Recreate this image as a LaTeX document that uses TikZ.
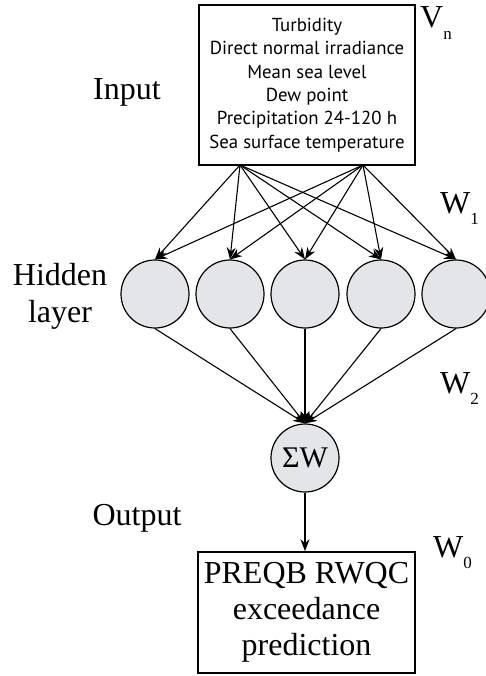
\documentclass[tikz,border=0pt]{standalone}
\usepackage{fontspec}
\setmainfont{Liberation Serif}
\newfontfamily\boxfont{PT Sans}
\usetikzlibrary{arrows.meta}
\definecolor{nodegray}{HTML}{E3E5E8}
\tikzset{
  lbl/.style={font=\fontsize{32}{37}\selectfont, inner sep=0pt},
  wlbl/.style={font=\fontsize{32}{37}\selectfont, inner sep=0pt, anchor=base west},
  neuron/.style={circle, draw=black, line width=1.2pt, fill=nodegray, minimum size=68pt, inner sep=0pt},
  bx/.style={draw=black, line width=1.6pt, rectangle, inner sep=0pt, align=center},
  conn/.style={line width=1.1pt, draw=black, -{Stealth[length=12pt,width=9pt]}},
}
\newcommand{\subl}[1]{\raisebox{-0.36em}{\fontsize{17}{17}\selectfont #1}}
\begin{document}
\begin{tikzpicture}[x=1pt,y=-1pt]
\useasboundingbox (0,0) rectangle (485,676);
% input box
\node[bx, minimum width=216pt, minimum height=160pt,
  font=\boxfont\fontsize{18.8}{23.3}\selectfont] (in) at (307,85)
  {Turbidity\\Direct normal irradiance\\Mean sea level\\Dew point\\Precipitation 24-120 h\\Sea surface temperature};
\coordinate (s1) at (240,165);
\coordinate (s2) at (363,165);
% hidden layer
\foreach \i/\x in {1/155,2/230,3/305,4/381,5/456}{
  \node[neuron] (h\i) at (\x,294) {};
}
\foreach \i in {1,...,5}{
  \draw[conn] (s1) -- (h\i.north);
  \draw[conn] (s2) -- (h\i.north);
}
% sum node
\node[neuron, font=\fontsize{30}{32}\selectfont] (sum) at (305,458) {ΣW};
\foreach \i in {1,...,5}{
  \draw[conn] (h\i.south) -- (sum.north);
}
% output box
\node[bx, minimum width=217pt, minimum height=121pt,
  font=\fontsize{32}{36}\selectfont] (out) at (306.5,612.5)
  {PREQB RWQC\\exceedance\\prediction};
\draw[conn] (sum.south) -- (sum.south |- out.north);
% labels
\node[lbl, anchor=base] (linput) at (127,100) {Input};
\node[lbl, align=center] (lhidden) at (60,296) {Hidden\\layer};
\node[lbl, anchor=base] (loutput) at (137,525) {Output};
\node[wlbl] (lv) at (420,28) {V\subl{n}};
\node[wlbl] (lw1) at (440,213) {W\subl{1}};
\node[wlbl] (lw2) at (440,393) {W\subl{2}};
\node[wlbl] (lw0) at (433,557) {W\subl{0}};
\end{tikzpicture}
\end{document}
